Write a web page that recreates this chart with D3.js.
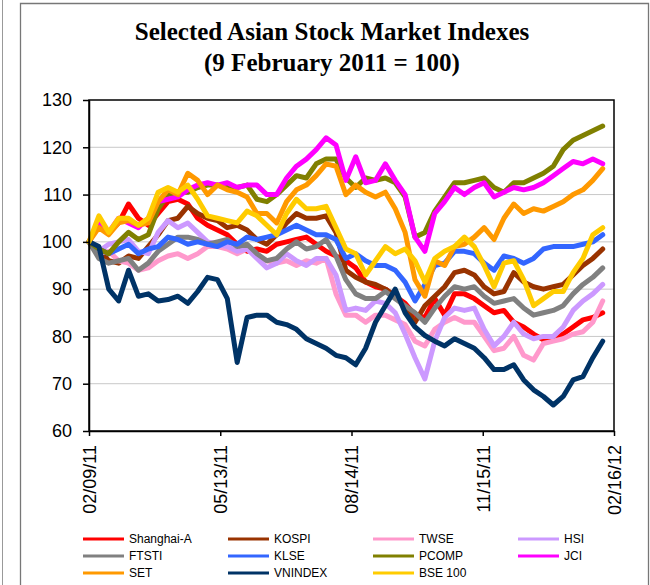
<!DOCTYPE html>
<html>
<head>
<meta charset="utf-8">
<script src="https://cdn.jsdelivr.net/npm/d3@7"></script>
<style>
body{margin:0;background:#fff;}
svg{display:block;}
.axis text{font-family:"Liberation Sans",Arial,sans-serif;font-size:18px;fill:#000;}
.legend text{font-family:"Liberation Sans",Arial,sans-serif;font-size:12px;fill:#000;}
</style>
</head>
<body>
<div id="canvas"></div>
<script>
// weekly readings, 9 Feb 2011 = 100
var shanghai = [100,104,102,104,108,105,103.5,106,108.5,109,108,105,103.5,102.5,101.5,99.5,98,98.5,98,99.5,100,100.5,101,99.5,98,97,
    96,94.5,91.5,90.5,90,88.5,87,84.5,84,88,84.5,89,89,88,86.5,85,85.5,83,82,80.5,79.3,79.5,80.5,82,83.5,84,85];
var kospi = [100,98.5,96,95.5,97,96.5,99,101.5,104.5,105,107.5,106,105,104.5,103,103.5,102.5,100.5,99.5,101.5,104,106,105,105,105.5,102,
    94,92.5,91.5,91,90,88.5,86,83,86.5,88.5,90.5,93.5,94,93,90.5,89,89.5,93.5,91.5,90.5,90,90.5,91,93,95,96.5,98.5];
var twse = [100,97.5,98,96,95.5,94,94.5,96,97,97.5,96.5,97.5,99,99,98.5,97.5,98.5,97,96,95.5,96,95,96,95.5,96.5,89,
    84.5,84.5,83,84.5,84.5,83.5,82.5,79,78,81.5,83,84,83,83,80,77,77.5,80,76,75,78.5,79,79.5,80.5,81,83,87.5];
var hsi = [100,98,99.5,100,100.5,98,97.5,102,104.5,103,104,102,100,99.5,99,98,98.5,96.5,94.5,95.5,97.5,96,95,96.5,96.5,93,
    85.5,86,85.5,87.5,87,85,80.5,75.5,71,79,84,86,85.5,86,81.5,78,80,83,80.5,79.5,80,80,82,85.5,87.5,89,91];
var ftsti = [100,96.5,95.5,96,96.5,94,95.5,98,99.5,101,101,100.5,99.5,100,100.5,99,99.5,97.5,96,96.5,98.5,100,98.5,99,100.5,97,
    92,89,88,88,89.5,88,86.5,85,83,86,88.5,90.5,90,90.5,88.5,87,87.5,88,86,84.5,85,85.5,86.5,89,91,92.5,94.5];
var klse = [100,98.5,97.5,98.5,99.5,97.5,98.5,99,101,100.5,99.5,100,99.5,99,100,99.5,101,100.5,101,101.5,102.5,103.5,102.5,101.5,101.5,100.5,
    96.5,97.5,96,95,95,94,91.5,87.5,91,95,95.5,98,98,97.5,95.5,94,97,96.5,95.5,96.5,98.5,99,99,99,99.5,100,101.5];
var pcomp = [100,98.5,97.5,100,102,100.5,101.5,107,110,110.5,110.5,111.5,112,112,111.5,111.5,112,109,108.5,110,112,114,113.5,116.5,117.5,117.5,
    113.5,111.5,113.5,113,113.5,112.5,109.5,101,102,106.5,109.5,112.5,112.5,113,113.5,111.5,110.5,112.5,112.5,113.5,114.5,116,119.5,121.5,122.5,123.5,124.5];
var jci = [100,104,102,105,104,103,105,108.5,109,109.5,111,112,112.5,112,112.5,111.5,112,112,110,110,113.5,116,117.5,119.5,122,120.5,
    113,118,112.5,113,116.5,113,110,101,98,106,108.5,111.5,110,111.5,112.5,109.5,110.5,111.5,111,111.5,112.5,114,115.5,117,116.5,117.5,116.5];
var set = [100,103,101.5,104,104.5,103.5,104,108.5,111,110,114.5,113,110,112,111,110.5,109.5,106,106,104,108.5,111,112,114,116.5,116,
    110,112,110.5,109.5,110.5,107,102,92,88.5,96,95,99,99.5,101,103,100.5,105,108,106,107,106.5,107.5,108.5,110,111,113,115.5];
var vnindex = [100,99,90,87.5,94,88.5,89,87.5,87.8,88.5,87,89.5,92.5,92,88,74.5,84,84.5,84.5,83,82.5,81.5,79.5,78.5,77.5,76,
    75.5,74,77.5,83,86.5,90,85,82,80.2,79,78,79.5,78.5,77.5,75.5,73,73,74,70.8,68.7,67.3,65.5,67.3,70.8,71.5,75.5,79];
var bse100 = [100,105.5,102,105,105,103.5,105,110.5,111.5,110.5,112,109,105.5,105,104.5,104,106.5,105.5,103.5,101.5,106,109,107,107,107.5,103,
    98.5,97.5,93,96,99,97.5,98.5,96,91.5,96.5,98,99,101,99,95,90.5,95.5,96,92,86.5,88,89.5,89.5,93.5,96.5,101.5,103];

var names = ['Shanghai-A','KOSPI','TWSE','HSI','FTSTI','KLSE','PCOMP','JCI','SET','VNINDEX','BSE 100'];
var colors = ['#ff0000','#993300','#ff99cc','#cc99ff','#808080','#3366ff','#808000','#ff00ff','#ff9900','#003366','#ffcc00'];
var series = [shanghai,kospi,twse,hsi,ftsti,klse,pcomp,jci,set,vnindex,bse100];

var yTicks = [60,70,80,90,100,110,120,130];
var xTickLabels = ['02/09/11','05/13/11','08/14/11','11/15/11','02/16/12'];

var parseDate = d3.timeParse('%m/%d/%y');
var start = parseDate('02/09/11');
var dates = d3.range(shanghai.length).map(function(i){ return d3.timeDay.offset(start, 7*i); });

var W = 650, H = 585;
var m = {t:100, r:36, b:154, l:89};

var svg = d3.select('#canvas').append('svg')
    .attr('width', W)
    .attr('height', H);

// outer frame
svg.append('line').attr('x1',2.5).attr('x2',2.5).attr('y1',0).attr('y2',H)
    .attr('stroke','#999').attr('stroke-width',1);
svg.append('path')
    .attr('d','M20.5,' + H + 'V3.5H648.5V' + H)
    .attr('fill','none').attr('stroke','#777').attr('stroke-width',1.3);

// title
var title = svg.append('text')
    .attr('text-anchor','middle')
    .style('font-family','"Liberation Serif","Times New Roman",serif')
    .style('font-weight','bold')
    .style('font-size','25px');
title.append('tspan').attr('x',332).attr('y',40).text('Selected Asian Stock Market Indexes');
title.append('tspan').attr('x',332).attr('y',71).text('(9 February 2011 = 100)');

var x = d3.scaleTime()
    .domain([parseDate('02/09/11'), parseDate('02/16/12')])
    .range([m.l, W - m.r]);
var y = d3.scaleLinear()
    .domain([60,130])
    .range([H - m.b, m.t]);

// gridlines
svg.append('g').selectAll('line')
    .data(yTicks.slice(1, -1))
    .enter().append('line')
    .attr('x1', m.l).attr('x2', W - m.r)
    .attr('y1', function(d){ return y(d); })
    .attr('y2', function(d){ return y(d); })
    .attr('stroke','#c8c8c8').attr('stroke-width',1);

// lines
var line = d3.line()
    .x(function(d, i){ return x(dates[i]); })
    .y(function(d){ return y(d); });

svg.append('g').selectAll('path')
    .data(series)
    .enter().append('path')
    .attr('d', line)
    .attr('fill','none')
    .attr('stroke', function(d, i){ return colors[i]; })
    .attr('stroke-width',5)
    .attr('stroke-linejoin','round')
    .attr('stroke-linecap','round');

// plot border
svg.append('rect')
    .attr('x', m.l).attr('y', m.t)
    .attr('width', W - m.r - m.l)
    .attr('height', H - m.b - m.t)
    .attr('fill','none').attr('stroke','#000').attr('stroke-width',1.5);

// axes
var axisY = d3.axisLeft(y).tickValues(yTicks).tickSize(6).tickSizeOuter(0).tickPadding(11);
svg.append('g').attr('class','axis')
    .attr('transform','translate(' + m.l + ',0)')
    .call(axisY)
    .call(function(g){ g.selectAll('path,line').attr('stroke','#000').attr('stroke-width',1.5); });

var axisX = d3.axisBottom(x)
    .tickValues(xTickLabels.map(parseDate))
    .tickFormat(d3.timeFormat('%m/%d/%y'))
    .tickSize(5).tickSizeOuter(0);
svg.append('g').attr('class','axis')
    .attr('transform','translate(0,' + (H - m.b) + ')')
    .call(axisX)
    .call(function(g){
        g.selectAll('path,line').attr('stroke','#000').attr('stroke-width',1.5);
        g.selectAll('text')
            .attr('transform','rotate(-90)')
            .attr('text-anchor','end')
            .attr('x', -14)
            .attr('y', 0)
            .attr('dy','0.35em');
    });

// legend, 4 columns
var legend = svg.append('g').attr('class','legend')
    .selectAll('g')
    .data(names)
    .enter().append('g')
    .attr('transform', function(d, i){
        return 'translate(' + (83 + (i % 4) * 145) + ',' + (539 + Math.floor(i / 4) * 17) + ')';
    });
legend.append('line')
    .attr('x1',0).attr('x2',41)
    .attr('stroke', function(d, i){ return colors[i]; })
    .attr('stroke-width',3);
legend.append('text')
    .attr('x',46).attr('dy','0.35em')
    .text(function(d){ return d; });
</script>
</body>
</html>
